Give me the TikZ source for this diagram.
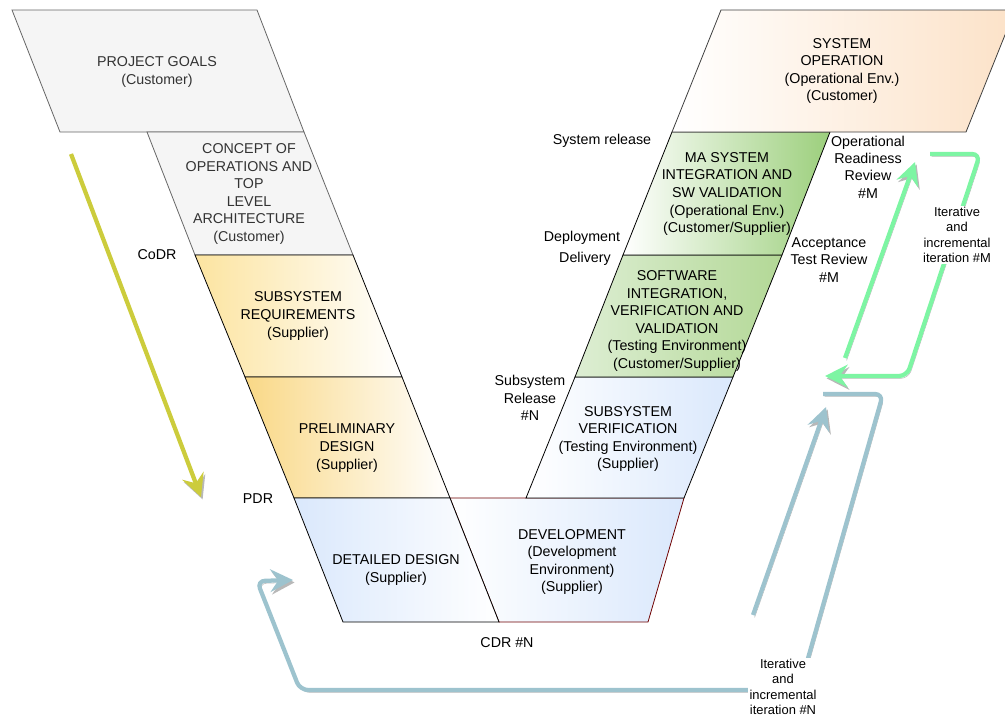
\documentclass[tikz,border=0pt]{standalone}
\usepackage{fontspec}
\setmainfont{Liberation Sans}
\usepackage{xcolor}
\usetikzlibrary{arrows.meta}
\definecolor{goalgray}{HTML}{F5F5F5}
\definecolor{edgegray}{HTML}{666666}
\definecolor{textgray}{HTML}{333333}
\definecolor{reqyellow}{HTML}{FCE4A0}
\definecolor{prelimyellow}{HTML}{F9D886}
\definecolor{designblue}{HTML}{DAE8FC}
\definecolor{devred}{HTML}{6F0000}
\definecolor{swgreenlight}{HTML}{DDEED3}
\definecolor{swgreen}{HTML}{B3D896}
\definecolor{magreen}{HTML}{9CCF7C}
\definecolor{oppeach}{HTML}{FCE2C8}
\definecolor{downyellow}{HTML}{CCCC3C}
\definecolor{loopgreen}{HTML}{7DF5A3}
\definecolor{loopblue}{HTML}{9DC3CE}
\tikzset{
    stage/.style = {draw=black, line width=0.6pt},
    grey-stage/.style = {fill=goalgray, draw=edgegray, line width=0.6pt},
    stage-text/.style = {align=center, font=\fontsize{10.7}{13.2}\selectfont},
    side-label/.style = {align=center, inner sep=1pt, font=\fontsize{10.7}{13}\selectfont},
    loop-label/.style = {align=center, fill=white, inner sep=1pt, font=\fontsize{9.7}{11.5}\selectfont},
    flow-arrow/.style = {line width=3.2pt,
        -{Stealth[length=17pt, width=17pt, inset=6pt]},
        preaction={draw=black!28, transform canvas={shift={(1.2pt,-1.8pt)}}}},
}
\begin{document}
\begin{tikzpicture}[x=0.75pt, y=-0.75pt]
\useasboundingbox (0,0) rectangle (1005,719);
\clip (0,0) rectangle (1005,719);

% bottom of the V
\path[stage, draw=devred, left color=white, right color=designblue] (450,498) -- (684,498) -- (648,622) -- (499,622) -- cycle;

% left leg
\path[grey-stage] (12,10) -- (257,10) -- (304,132) -- (60,132) -- cycle;
\path[grey-stage] (147,132) -- (304,132) -- (353,255) -- (195,255) -- cycle;
\path[stage, left color=reqyellow, right color=white] (195,255) -- (353,255) -- (402,377) -- (245,377) -- cycle;
\path[stage, left color=prelimyellow, right color=white] (245,377) -- (402,377) -- (450,498) -- (294,498) -- cycle;
\path[stage, left color=designblue, right color=white] (294,498) -- (450,498) -- (499,622) -- (343,622) -- cycle;

% right leg
\path[stage, left color=white, right color=designblue] (526,498) -- (684,498) -- (733,377) -- (575,377) -- cycle;
\path[stage, left color=swgreenlight, right color=swgreen] (575,377) -- (733,377) -- (782,255) -- (623,255) -- cycle;
\path[stage, left color=white, right color=magreen] (623,255) -- (782,255) -- (830,132) -- (672,132) -- cycle;
\path[stage, draw=black!75, left color=white, right color=oppeach] (672,132) -- (966,132) -- (1015,10) -- (721,10) -- cycle;

% stage texts
\node[stage-text, text=textgray] (goals) at (157,72) {PROJECT GOALS\\(Customer)};
\node[stage-text, text=textgray] (concept) at (249,194) {CONCEPT OF\\OPERATIONS AND\\TOP\\LEVEL\\ARCHITECTURE\\(Customer)};
\node[stage-text] (sysreq) at (298,316) {SUBSYSTEM\\REQUIREMENTS\\(Supplier)};
\node[stage-text] (prelim) at (347,448) {PRELIMINARY\\DESIGN\\(Supplier)};
\node[stage-text] (detail) at (396,570) {DETAILED DESIGN\\(Supplier)};
\node[stage-text] (devel) at (572,562) {DEVELOPMENT\\(Development\\Environment)\\(Supplier)};
\node[stage-text] (verif) at (628,439) {SUBSYSTEM\\VERIFICATION\\(Testing Environment)\\(Supplier)};
\node[stage-text] (swint) at (677,321) {SOFTWARE\\INTEGRATION,\\VERIFICATION AND\\VALIDATION\\(Testing Environment)\\(Customer/Supplier)};
\node[stage-text] (masys) at (727,194) {MA SYSTEM\\INTEGRATION AND\\SW VALIDATION\\(Operational Env.)\\(Customer/Supplier)};
\node[stage-text] (sysop) at (842,71) {SYSTEM\\OPERATION\\(Operational Env.)\\(Customer)};

% reviews and milestones
\node[side-label] (codr) at (157,255) {CoDR};
\node[side-label] (pdr) at (258,499) {PDR};
\node[side-label] (cdr) at (507,643) {CDR \#N};
\node[side-label] (subrel) at (530,398) {Subsystem\\Release\\\#N};
\node[side-label] (deploy) at (582,238) {Deployment};
\node[side-label] (deliv) at (585,259) {Delivery};
\node[side-label] (sysrel) at (602,141) {System release};
\node[side-label] (orr) at (868,167) {Operational\\Readiness\\Review\\\#M};
\node[side-label] (atr) at (829,260) {Acceptance\\Test Review\\\#M};

% arrows
\coordinate (down-start) at (71,154);
\coordinate (down-end) at (201,497);
\coordinate (m-up-start) at (845,358);
\coordinate (m-up-end) at (915,162);
\coordinate (m-back-start) at (930,154);
\coordinate (m-back-end) at (825,376);
\coordinate (n-up-start) at (753,615);
\coordinate (n-up-end) at (826,407);
\coordinate (n-back-start) at (823,394);
\coordinate (n-back-end) at (293,580);
\draw[flow-arrow, draw=downyellow] (down-start) -- (down-end);
\draw[flow-arrow, draw=loopgreen] (m-up-start) -- (m-up-end);
\draw[flow-arrow, draw=loopgreen, rounded corners=6pt] (m-back-start) -- (980,154) -- (907,376) -- (m-back-end);
\draw[flow-arrow, draw=loopblue] (n-up-start) -- (n-up-end);
\draw[flow-arrow, draw=loopblue, rounded corners=6pt] (n-back-start) -- (883,394) -- (799,690) -- (300,690) -- (257,581) -- (n-back-end);

\node[loop-label] (m-loop) at (957,235) {Iterative\\and\\incremental\\iteration \#M};
\node[loop-label] (n-loop) at (783,687) {Iterative\\and\\incremental\\iteration \#N};
\end{tikzpicture}
\end{document}
